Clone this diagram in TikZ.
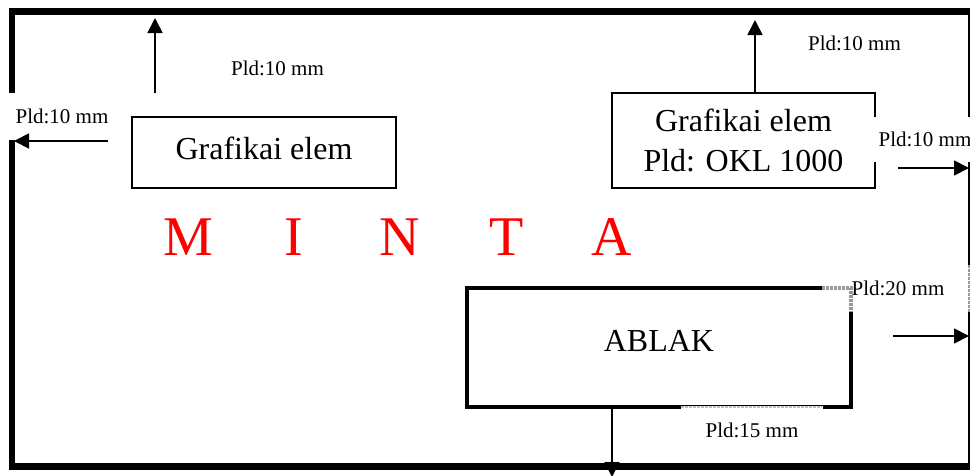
\documentclass[tikz,border=0pt]{standalone}
\usepackage{fontspec}
\setmainfont{Liberation Serif}
\usetikzlibrary{arrows.meta}
\begin{document}
\begin{tikzpicture}[x=1pt,y=-1pt,
  border/.style={line width=6.5pt},
  thinbox/.style={draw,line width=2pt,inner sep=0pt,font=\fontsize{32}{40}\selectfont,align=center},
  thickbox/.style={draw,line width=4pt,inner sep=0pt,font=\fontsize{32}{40}\selectfont},
  lbl/.style={fill=white,inner sep=0pt,font=\fontsize{21}{25}\selectfont},
  arr/.style={line width=1.8pt,-{Triangle[length=15pt,width=15pt]}},
  covered/.style={draw=black!40,line width=4pt,dash pattern=on 3pt off 1pt},
  coveredthin/.style={draw=black!25,line width=1.5pt,dash pattern=on 3pt off 1pt},
  mintastyle/.style={anchor=base west,inner sep=0pt,text=red,font=\fontsize{56}{60}\selectfont},
]
\useasboundingbox (0,0) rectangle (970,475);
% outer frame
\draw[border] (12,11.5) rectangle (971,466.5);

% boxes
\node[thinbox,minimum width=264pt,minimum height=71pt,text depth=9pt] (g1) at (264,152.5) {Grafikai elem};
\node[thinbox,minimum width=263pt,minimum height=95pt] (g2) at (743.5,140.5) {Grafikai elem\\Pld: OKL 1000};
\node[thickbox,minimum width=384pt,minimum height=119pt,text depth=13pt] (ablak) at (659,347.5) {ABLAK};

% MINTA
\node[mintastyle] (minta) at (135,255) {\makebox[106pt]{M}\makebox[106pt]{I}\makebox[106pt]{N}\makebox[106pt]{T}\makebox[106pt]{A}};

% labels
\node[lbl,minimum width=110pt,minimum height=47pt] (l1) at (62,116) {Pld:10 mm};
\node[lbl] (l2) at (277.5,68) {Pld:10 mm};
\node[lbl] (l3) at (854.5,43) {Pld:10 mm};
\node[lbl,minimum width=104pt,minimum height=45pt] (l4) at (925,139.5) {Pld:10 mm};
\node[lbl,minimum width=152pt,minimum height=47pt] (l5) at (898,288.5) {Pld:20 mm};
\node[lbl,minimum width=142pt,minimum height=50pt] (l6) at (752,430.5) {Pld:15 mm};

% covered line parts
\draw[covered] (822,288) -- (851,288) -- (851,312);
\draw[draw=black!40,line width=6pt,dash pattern=on 3pt off 1pt] (971,265) -- (971,312);
\draw[coveredthin] (681,407) -- (822,407);

% arrows
\coordinate (a1s) at (155,93);
\coordinate (a1e) at (155,18);
\draw[arr] (a1s) -- (a1e);
\coordinate (a2s) at (108,141);
\coordinate (a2e) at (14,141);
\draw[arr] (a2s) -- (a2e);
\coordinate (a3e) at (755,20);
\draw[arr] (g2.north -| a3e) -- (a3e);
\coordinate (a4s) at (898,168);
\coordinate (a4e) at (969,168);
\draw[arr] (a4s) -- (a4e);
\coordinate (a5s) at (893,336);
\coordinate (a5e) at (969,336);
\draw[arr] (a5s) -- (a5e);
\coordinate (a6e) at (612,477);
\draw[arr] (ablak.south -| a6e) -- (a6e);
\end{tikzpicture}
\end{document}
